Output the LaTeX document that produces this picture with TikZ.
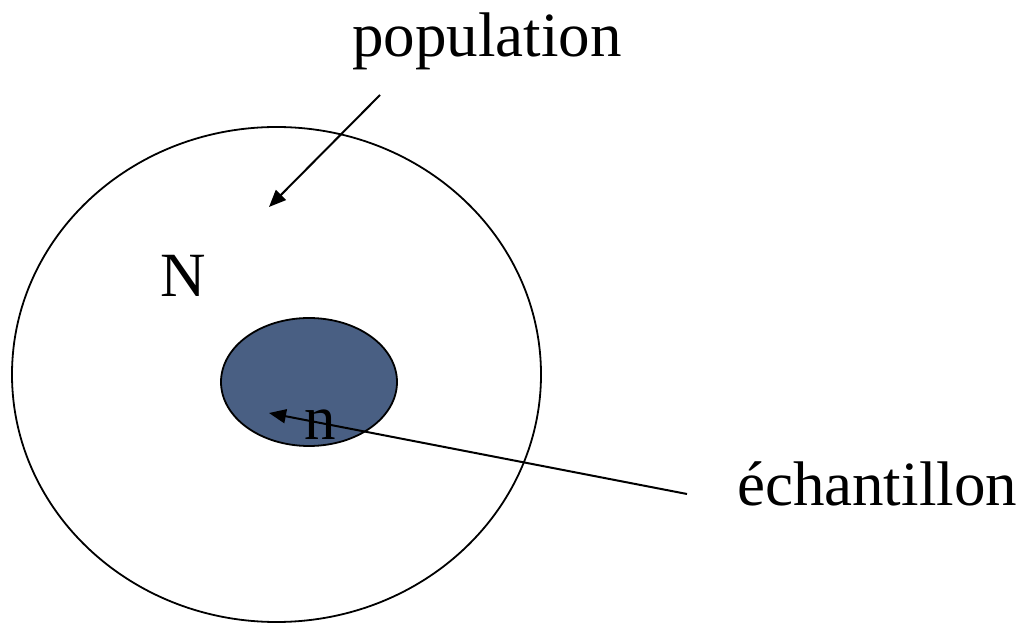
\documentclass[tikz,border=0pt]{standalone}
\usepackage{fontspec}
\setmainfont{Liberation Serif}
\usetikzlibrary{arrows.meta,shapes.geometric}
\definecolor{sampleblue}{RGB}{73,95,131}

\begin{document}
\begin{tikzpicture}[x=0.5pt, y=-0.5pt,
    lbl/.style={font=\fontsize{31.5}{36}\selectfont, inner sep=0pt, anchor=base},
    set/.style={ellipse, draw, line width=0.9pt, inner sep=0pt},
    arr/.style={-{Triangle[length=8.5pt,width=7pt]}, line width=1pt},
]
\useasboundingbox (0,0) rectangle (1027,624);

% Sets: population and sample
\node[set, minimum width=264.5pt, minimum height=247.5pt] (popset) at (276.5,374.5) {};
\node[set, fill=sampleblue, minimum width=88pt, minimum height=64pt] (sampleset) at (309,382) {};

% Labels
\node[lbl] (pop) at (487,57) {population};
\node[lbl] (bigN) at (183,297) {N};
\node[lbl] (smalln) at (320,440) {n};
\node[lbl] (ech) at (877,505) {échantillon};

% Arrow ends
\coordinate (popfrom) at (380,95);
\coordinate (popto) at (269,207);
\coordinate (echfrom) at (687,494);
\coordinate (echto) at (269,413);

% Arrows
\draw[arr] (popfrom) -- (popto);
\draw[arr] (echfrom) -- (echto);

\end{tikzpicture}
\end{document}
